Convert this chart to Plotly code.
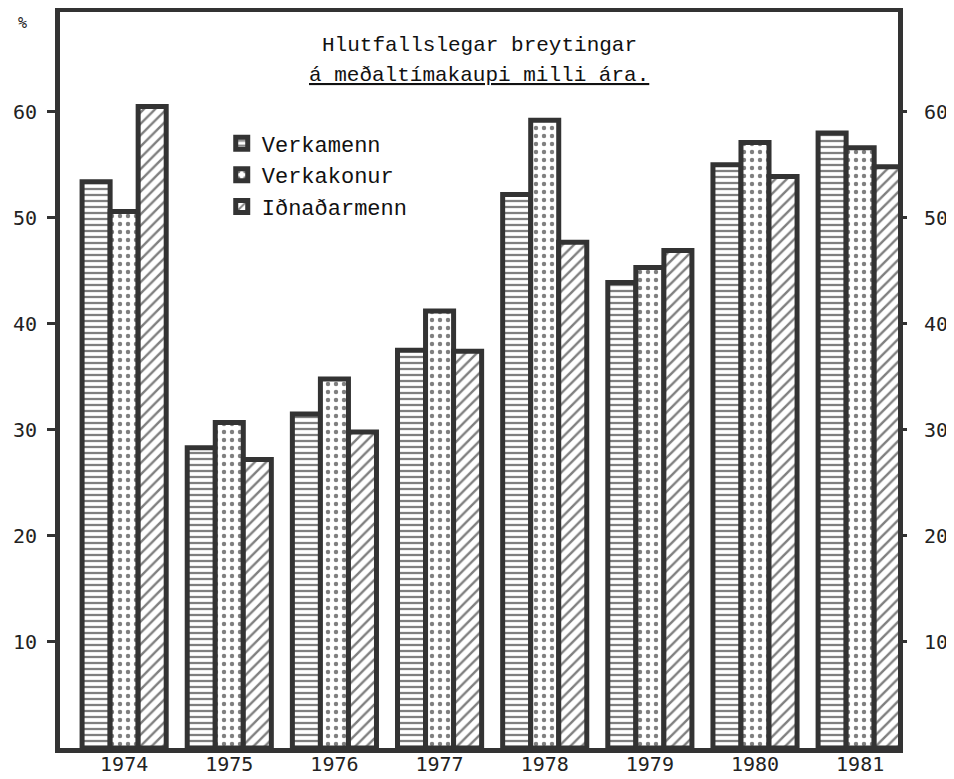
import plotly.graph_objects as go

years = ["1974", "1975", "1976", "1977", "1978", "1979", "1980", "1981"]
verkamenn = [53.4, 28.3, 31.5, 37.5, 52.2, 43.9, 55.0, 58.0]
verkakonur = [50.6, 30.7, 34.8, 41.2, 59.2, 45.3, 57.1, 56.6]
idnadarmenn = [60.5, 27.2, 29.8, 37.4, 47.7, 46.9, 53.9, 54.8]
series_names = ["Verkamenn", "Verkakonur", "Iðnaðarmenn"]
tick_vals = [10, 20, 30, 40, 50, 60]

BORDER = "#333333"
MONO = "Liberation Mono"
SANSMONO = "DejaVu Sans Mono"

patterns = [
    dict(shape="-", size=6, solidity=0.38, fgcolor="#000", bgcolor="white"),
    dict(shape=".", size=8, solidity=0.24, fgcolor="#000", bgcolor="white"),
    dict(shape="/", size=8, solidity=0.3, fgcolor="#000", bgcolor="white"),
]

fig = go.Figure()
for name, vals, pat in zip(series_names, [verkamenn, verkakonur, idnadarmenn], patterns):
    fig.add_trace(go.Bar(
        x=years, y=vals, name=name,
        marker=dict(color="white", pattern=pat, line=dict(color=BORDER, width=5)),
    ))

# the page body adds an 8px offset, so the figure is laid out 8px smaller
fig.update_layout(
    width=946, height=771,
    paper_bgcolor="white", plot_bgcolor="white",
    margin=dict(l=52, r=56, t=4, b=31, autoexpand=False),
    barmode="group", bargap=0.2, bargroupgap=0,
    showlegend=True,
    legend=dict(
        x=0.193, y=0.85, xanchor="left", yanchor="top",
        font=dict(family=MONO, size=22, color="#111"),
        bgcolor="rgba(0,0,0,0)", borderwidth=0,
        tracegroupgap=0,
    ),
    xaxis=dict(
        type="category", range=[-0.61, 7.36], automargin=False,
        showline=True, mirror=True, linewidth=5, linecolor=BORDER,
        showgrid=False, ticks="", zeroline=False,
        tickfont=dict(family=SANSMONO, size=20, color="#222"),
        ticklabelstandoff=-6,
    ),
    yaxis=dict(
        range=[0, 69.4], tickvals=tick_vals, automargin=False,
        showline=True, mirror=True, linewidth=5, linecolor=BORDER,
        showgrid=False, zeroline=False,
        ticks="outside", ticklen=8, tickwidth=3, tickcolor=BORDER,
        tickfont=dict(family=SANSMONO, size=20, color="#222"),
        ticklabelstandoff=6,
    ),
    yaxis2=dict(
        range=[0, 69.4], tickvals=tick_vals, overlaying="y", side="right",
        automargin=False,
        showline=False, showgrid=False, zeroline=False,
        ticks="outside", ticklen=8, tickwidth=3, tickcolor=BORDER,
        tickfont=dict(family=SANSMONO, size=20, color="#222"),
        ticklabelstandoff=13,
    ),
    annotations=[
        dict(text="Hlutfallslegar breytingar", xref="paper", yref="paper",
             x=0.5, y=0.954, xanchor="center", yanchor="middle", showarrow=False,
             font=dict(family=MONO, size=21, color="#111")),
        dict(text="<u>á meðaltímakaupi milli ára.</u>", xref="paper", yref="paper",
             x=0.5, y=0.914, xanchor="center", yanchor="middle", showarrow=False,
             font=dict(family=MONO, size=21, color="#111")),
        dict(text="%", xref="paper", yref="paper", x=-0.045, y=0.985,
             xanchor="center", yanchor="middle", showarrow=False,
             font=dict(family=SANSMONO, size=15, color="#222")),
    ],
)
fig.add_trace(go.Bar(x=years, y=verkamenn, yaxis="y2", visible=False, showlegend=False))

fig.write_html("out.html")
